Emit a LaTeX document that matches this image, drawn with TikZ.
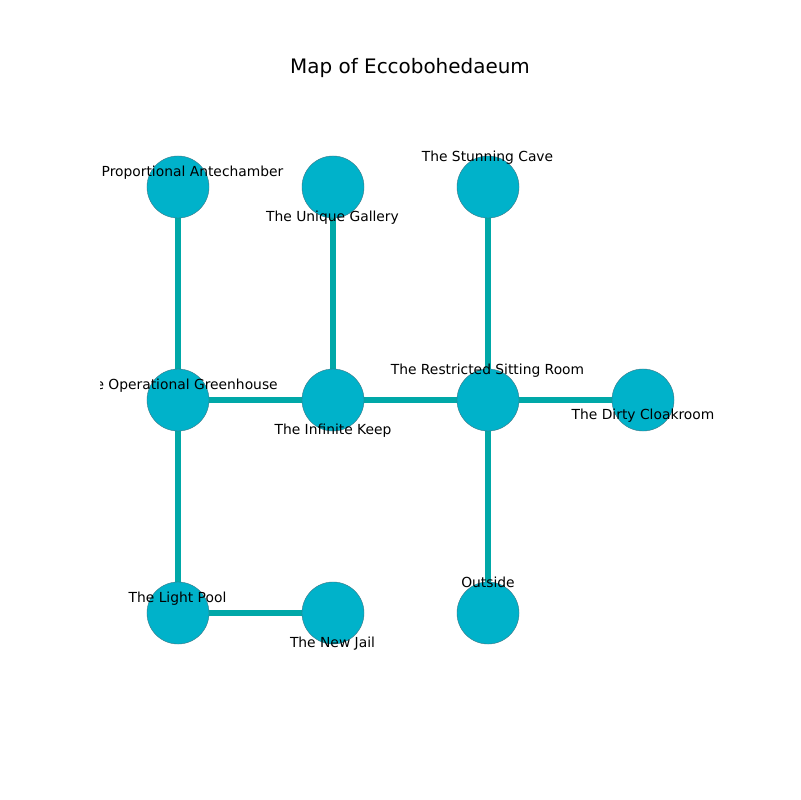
\documentclass[tikz,border=0pt]{standalone}
\usepackage{fontspec}
\setmainfont{DejaVu Sans}
\usetikzlibrary{backgrounds}
\definecolor{roomfill}{RGB}{0,178,202}
\definecolor{roomedge}{RGB}{60,120,135}
\definecolor{passagecol}{RGB}{0,168,168}
\tikzset{
  room/.style={circle,fill=roomfill,draw=roomedge,line width=0.3pt,minimum size=0.62in,inner sep=0pt},
  passage/.style={draw=passagecol,line width=4pt},
  lbl/.style={inner sep=0pt,font=\fontsize{10}{12}\selectfont}
}
\begin{document}
\begin{tikzpicture}[x=0.01in,y=-0.01in]
\useasboundingbox (0,0) rectangle (800,800);
\node[font=\fontsize{14.4}{17}\selectfont] (title) at (410,68){Map of Eccobohedaeum};
% rooms
\node[room] (ante) at (178,187){};
\node[room] (gallery) at (333,187){};
\node[room] (cave) at (488,187){};
\node[room] (green) at (178,400){};
\node[room] (keep) at (333,400){};
\node[room] (sitting) at (488,400){};
\node[room] (cloak) at (643,400){};
\node[room] (pool) at (178,613){};
\node[room] (jail) at (333,613){};
\node[room] (outside) at (488,613){};
% passages
\begin{scope}[on background layer]
\fill[white] (0,0) rectangle (800,800);
\draw[passage] (ante) -- (green);
\draw[passage] (gallery) -- (keep);
\draw[passage] (cave) -- (sitting);
\draw[passage] (green) -- (keep);
\draw[passage] (keep) -- (sitting);
\draw[passage] (sitting) -- (cloak);
\draw[passage] (green) -- (pool);
\draw[passage] (pool) -- (jail);
\draw[passage] (sitting) -- (outside);
\end{scope}
% names
\begin{scope}
\clip (100,96) rectangle (720,712);
\node[lbl] (anteL) at (192.5,173){Proportional Antechamber};
\node[lbl] (galleryL) at (332.5,218){The Unique Gallery};
\node[lbl] (caveL) at (487.5,158){The Stunning Cave};
\node[lbl] (greenL) at (178,386){The Operational Greenhouse};
\node[lbl] (keepL) at (333,431){The Infinite Keep};
\node[lbl] (sittingL) at (487.5,371){The Restricted Sitting Room};
\node[lbl] (cloakL) at (643,416){The Dirty Cloakroom};
\node[lbl] (poolL) at (177.5,599){The Light Pool};
\node[lbl] (jailL) at (332.5,644){The New Jail};
\node[lbl] (outsideL) at (488,582){Outside};
\end{scope}
\end{tikzpicture}
\end{document}
